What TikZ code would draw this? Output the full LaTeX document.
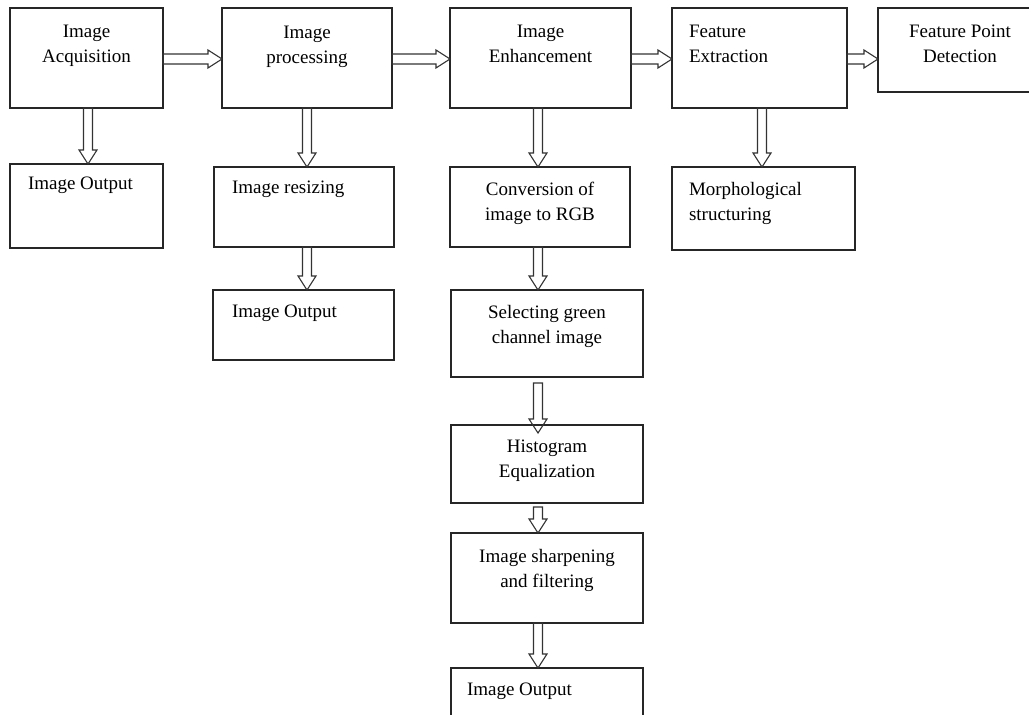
\documentclass[tikz,border=0pt]{standalone}
\usepackage{fontspec}
\setmainfont{Liberation Serif}
\usetikzlibrary{calc}
\newcommand\fl[1]{\rule{0pt}{#1pt}}
\tikzset{
  box/.style={draw=black!85, line width=1.2pt, inner sep=0pt, outer sep=0pt, anchor=north west,
    font=\fontsize{19}{25}\selectfont},
  harrow/.style={draw=black!80, line width=1.1pt, line join=miter,
    to path={let \p1=(\tikztostart), \p2=(\tikztotarget) in
      (\x1,\y1+5pt) -- (\x2-14pt,\y1+5pt) -- (\x2-14pt,\y1+9pt) -- (\x2,\y1)
      -- (\x2-14pt,\y1-9pt) -- (\x2-14pt,\y1-5pt) -- (\x1,\y1-5pt) -- cycle}},
  varrow/.style={draw=black!80, line width=1.1pt, line join=miter,
    to path={let \p1=(\tikztostart), \p2=(\tikztotarget) in
      (\x1-4.5pt,\y1) -- (\x1-4.5pt,\y2+14pt) -- (\x1-9pt,\y2+14pt) -- (\x1,\y2)
      -- (\x1+9pt,\y2+14pt) -- (\x1+4.5pt,\y2+14pt) -- (\x1+4.5pt,\y1) -- cycle}}
}
\newcommand\cbox[4]{\parbox[c][#2pt][t]{#1pt}{\centering\fl{#3}#4}}
\newcommand\lbox[5]{\parbox[c][#2pt][t]{#1pt}{\raggedright\leftskip=#4pt\fl{#3}#5}}
\begin{document}
\begin{tikzpicture}[x=1pt,y=-1pt]
\useasboundingbox (0,0) rectangle (1029,715);
% top row
\node[box] (acq) at (10,8) {\cbox{153}{100}{29}{Image\\Acquisition}};
\node[box] (proc) at (222,8) {\cbox{170}{100}{30}{Image\\processing}};
\node[box] (enh) at (450,8) {\cbox{181}{100}{29}{Image\\Enhancement}};
\node[box] (fext) at (672,8) {\lbox{175}{100}{29}{17}{Feature\\Extraction}};
\node[box] (fpd) at (878,8) {\cbox{164}{84}{29}{Feature Point\\Detection}};
% second row
\node[box] (out1) at (10,164) {\lbox{153}{84}{25}{18}{Image Output}};
\node[box] (resize) at (214,167) {\lbox{180}{80}{26}{18}{Image resizing}};
\node[box] (conv) at (450,167) {\cbox{180}{80}{28}{Conversion of\\image to RGB}};
\node[box] (morph) at (672,167) {\lbox{183}{83}{28}{17}{Morphological\\structuring}};
% third row and column
\node[box] (out2) at (213,290) {\lbox{181}{70}{27}{19}{Image Output}};
\node[box] (sel) at (451,290) {\cbox{192}{87}{28}{Selecting green\\channel image}};
\node[box] (hist) at (451,425) {\cbox{192}{78}{27}{Histogram\\Equalization}};
\node[box] (sharp) at (451,533) {\cbox{192}{90}{29}{Image sharpening\\and filtering}};
\node[box] (outf) at (451,668) {\lbox{192}{60}{27}{16}{Image Output}};
% horizontal arrows
\draw[harrow] ([yshift=-1]acq.east) to (proc.west);
\draw[harrow] ([yshift=-1]proc.east) to (enh.west);
\draw[harrow] ([yshift=-1]enh.east) to (fext.west);
\draw[harrow] ([yshift=-1]fext.east) to ($(fpd.north west)+(0,49)$);
% vertical arrows
\draw[varrow] ([xshift=1.5]acq.south) to (out1.north);
\draw[varrow] (proc.south) to (resize.north);
\draw[varrow] ([xshift=3]resize.south) to (out2.north);
\draw[varrow] ([xshift=-2.5]enh.south) to (conv.north);
\draw[varrow] ([xshift=2.5]fext.south) to (morph.north);
\draw[varrow] ([xshift=-2]conv.south) to (sel.north);
\draw[varrow] ([shift={(-9,6)}]sel.south) to ([yshift=-8]hist.north);
\draw[varrow] ([shift={(-9,4)}]hist.south) to (sharp.north);
\draw[varrow] ([xshift=-9]sharp.south) to (outf.north);
\end{tikzpicture}
\end{document}
